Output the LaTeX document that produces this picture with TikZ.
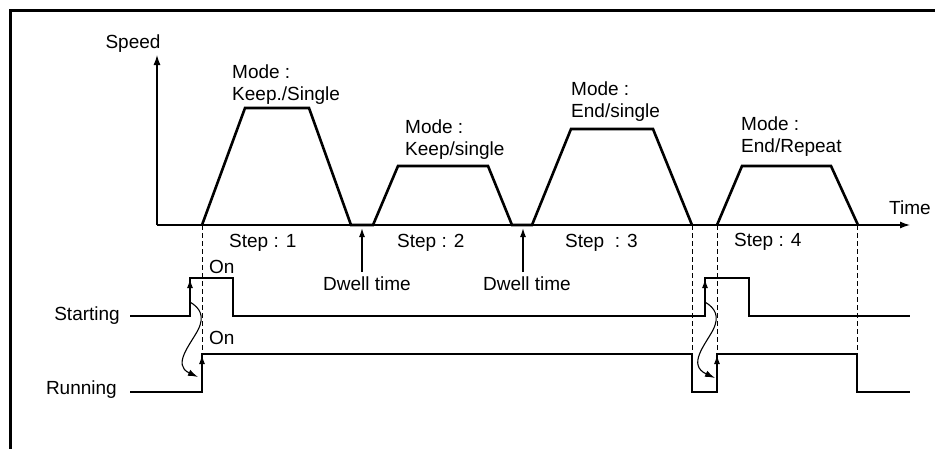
\documentclass[tikz,border=0pt]{standalone}
\usepackage{fontspec}
\setmainfont{Liberation Sans}
\usetikzlibrary{arrows.meta}
\begin{document}
\begin{tikzpicture}[x=1pt,y=-1pt,
  lbl/.style={inner sep=0pt,font=\fontsize{19}{21.5}\selectfont},
  prof/.style={line width=2.6pt,line join=miter},
  axis/.style={line width=1.3pt,-{Latex[length=10pt,width=7pt]}},
  sig/.style={line width=1.4pt},
  dsh/.style={line width=1pt,dash pattern=on 5pt off 3pt},
  uparr/.style={line width=1.4pt,-{Latex[length=9pt,width=6pt]}},
  curv/.style={line width=1.1pt,-{Latex[length=10pt,width=6.5pt]}}]
\useasboundingbox (0,0) rectangle (935,448);
\fill[white] (0,0) rectangle (935,448);
% frame
\draw[line width=3pt] (10,460) -- (10,10.5) -- (945,10.5);
% axes
\coordinate (O) at (157,225);
\coordinate (Ytip) at (157,55);
\coordinate (Xtip) at (910,225);
\draw[axis] (O) -- (Ytip);
\draw[axis] (O) -- (Xtip);
\node[lbl] (speed) at (133,44) {Speed};
\node[lbl,anchor=west] (time) at (889,208) {Time};
% speed profile
\draw[prof] (202,225) -- (245,108) -- (309,108) -- (351,225) -- (373,225)
  -- (398,166) -- (488,166) -- (512,225) -- (532,225)
  -- (571,129) -- (653,129) -- (692,225);
\draw[prof] (717,225) -- (742,166) -- (831,166) -- (858,225);
% mode labels
\node[lbl,anchor=north west,align=left] (m1) at (232,65) {Mode :\\Keep./Single};
\node[lbl,anchor=north west,align=left] (m2) at (405,120) {Mode :\\Keep/single};
\node[lbl,anchor=north west,align=left] (m3) at (571,82) {Mode :\\End/single};
\node[lbl,anchor=north west,align=left] (m4) at (741,117) {Mode :\\End/Repeat};
% step labels
\node[lbl,anchor=west] (s1) at (229,243) {Step : 1};
\node[lbl,anchor=west] (s2) at (397,243) {Step : 2};
\node[lbl,anchor=west] (s3) at (565,243) {Step \ : 3};
\node[lbl,anchor=west] (s4) at (734,242) {Step : 4};
% dwell time
\node[lbl] (d1) at (367,284) {Dwell time};
\node[lbl] (d2) at (527,284) {Dwell time};
\draw[uparr] (362,272) -- (362,228);
\draw[uparr] (523,272) -- (523,228);
% dashed lines
\draw[dsh] (202,225) -- (202,392);
\draw[dsh] (692,225) -- (692,354);
\draw[dsh] (717,225) -- (717,354);
\draw[dsh] (857,225) -- (857,354);
% signal labels
\node[lbl,anchor=east] (st) at (120,316) {Starting};
\node[lbl,anchor=east] (ru) at (117,390) {Running};
\node[lbl,anchor=west] (on1) at (209,267) {On};
\node[lbl,anchor=west] (on2) at (209,338) {On};
% starting signal
\draw[sig] (130,316) -- (190,316) -- (190,278) -- (233,278) -- (233,316) -- (705,316)
  -- (705,278) -- (749,278) -- (749,316) -- (910,316);
% running signal
\draw[sig] (130,392) -- (202,392) -- (202,354) -- (692,354) -- (692,392) -- (717,392)
  -- (717,354) -- (857,354) -- (857,392) -- (910,392);
% edge arrows
\draw[uparr] (190,300) -- (190,279);
\draw[uparr] (202,380) -- (202,355);
\draw[uparr] (705,300) -- (705,279);
\draw[uparr] (717,380) -- (717,355);
% causal curves
\draw[curv] (190,302) .. controls (200,308) and (205,316) .. (198,330)
  .. controls (190,345) and (172,365) .. (198,377);
\draw[curv] (705,302) .. controls (715,308) and (720,316) .. (713,330)
  .. controls (705,345) and (687,365) .. (715,378);
\end{tikzpicture}
\end{document}
